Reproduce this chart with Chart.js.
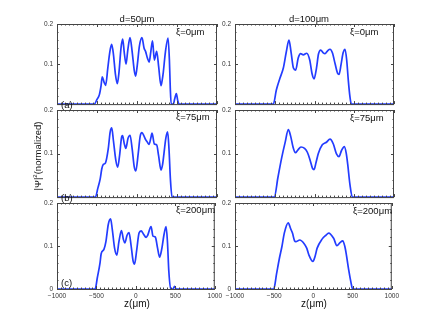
<!DOCTYPE html>
<html>
<head>
<meta charset="utf-8">
<script src="https://cdn.jsdelivr.net/npm/chart.js@4"></script>
<style>
  body { margin: 0; background: #fff; }
  #wrap { position: relative; width: 436px; height: 325px; overflow: hidden;
          font-family: "Liberation Sans", Arial, sans-serif; color: #111; }
  canvas { position: absolute; }
  .t { position: absolute; white-space: nowrap; font-size: 9.5px; line-height: 10px; height: 10px; z-index: 5; }
  .c { width: 80px; text-align: center; }
</style>
</head>
<body>
<div id="wrap">
  <div class="t c" style="left:97px;top:14px">d=50μm</div>
  <div class="t c" style="left:269px;top:14px">d=100μm</div>

  <div class="t" style="left:176px;top:27px">ξ=0μm</div>
  <div class="t" style="left:350px;top:27px">ξ=0μm</div>
  <div class="t" style="left:176px;top:112px">ξ=75μm</div>
  <div class="t" style="left:350px;top:113px">ξ=75μm</div>
  <div class="t" style="left:176px;top:205px">ξ=200μm</div>
  <div class="t" style="left:353px;top:206px">ξ=200μm</div>

  <div class="t" style="left:61px;top:100px">(a)</div>
  <div class="t" style="left:61px;top:193px">(b)</div>
  <div class="t" style="left:61px;top:278px">(c)</div>

  <div class="t c" style="left:97px;top:299px;font-size:10px">z(μm)</div>
  <div class="t c" style="left:274px;top:299px;font-size:10px">z(μm)</div>
  <div class="t c" style="left:-5px;top:151px;transform:rotate(-90deg)">|Ψ|<span style="font-size:6px;vertical-align:4px">2</span>(normalized)</div>
</div>
<script>
// d = 50um, xi = 0 / 75 / 200 um
const zA = [-1000,-600,-533,-500,-471,-450,-434,-412,-392,-365,-340,-317,-295,-270,-246,-225,-200,-179,-160,-137,-115,-87,-60,-35,-17,5,30,62,88,108,130,152,172,194,217,246,270,300,315,329,355,388,405,416,427,455,470,492,508,525,1000];
const psiA = [0,0,0,0.012,0.023,0.045,0.068,0.055,0.047,0.09,0.13,0.149,0.125,0.075,0.051,0.08,0.14,0.162,0.13,0.1,0.135,0.166,0.13,0.085,0.07,0.1,0.145,0.166,0.14,0.131,0.115,0.105,0.13,0.158,0.11,0.132,0.095,0.046,0.06,0.08,0.13,0.165,0.11,0.04,0,0,0.012,0.026,0.01,0,0];

const zB = [-1000,-600,-520,-490,-460,-440,-421,-395,-360,-335,-316,-295,-265,-241,-215,-195,-181,-158,-140,-112,-87,-60,-35,-15,15,40,62,88,108,130,150,172,188,217,246,270,300,320,337,360,383,400,418,438,1000];
const psiB = [0,0,0,0.02,0.042,0.065,0.075,0.078,0.11,0.15,0.159,0.13,0.085,0.069,0.1,0.135,0.141,0.122,0.112,0.135,0.142,0.11,0.07,0.06,0.1,0.14,0.148,0.14,0.132,0.126,0.121,0.135,0.147,0.122,0.12,0.095,0.062,0.075,0.1,0.135,0.15,0.11,0.04,0,0];

const zC = [-1000,-600,-516,-490,-455,-440,-405,-380,-350,-321,-300,-270,-242,-215,-183,-158,-140,-112,-87,-60,-35,-17,10,40,67,95,130,150,192,217,246,275,300,330,355,383,400,418,441,470,490,510,1000];
const psiC = [0,0,0,0.025,0.06,0.082,0.092,0.11,0.15,0.163,0.14,0.095,0.079,0.11,0.136,0.115,0.107,0.125,0.131,0.1,0.065,0.058,0.09,0.13,0.135,0.128,0.12,0.125,0.145,0.123,0.121,0.095,0.074,0.095,0.125,0.145,0.11,0.04,0,0,0.006,0,0];

// d = 100um, xi = 0 / 75 / 200 um
const zD = [-1000,-600,-518,-480,-434,-392,-355,-321,-295,-265,-237,-205,-174,-141,-98,-60,-30,-6,25,50,78,110,132,165,195,225,260,290,308,335,360,384,405,425,445,463,1000];
const psiD = [0,0,0,0.035,0.065,0.09,0.13,0.16,0.13,0.09,0.085,0.115,0.126,0.123,0.127,0.11,0.075,0.063,0.09,0.125,0.135,0.128,0.126,0.133,0.137,0.128,0.1,0.077,0.074,0.1,0.128,0.137,0.11,0.06,0.02,0,0];

const zE = [-1000,-600,-506,-460,-413,-370,-329,-300,-270,-240,-210,-170,-125,-90,-57,-25,-6,20,48,98,150,195,237,275,308,340,375,400,418,445,476,1000];
const psiE = [0,0,0,0.045,0.09,0.125,0.155,0.14,0.115,0.102,0.108,0.115,0.112,0.103,0.086,0.066,0.063,0.08,0.1,0.12,0.126,0.133,0.122,0.1,0.093,0.107,0.116,0.1,0.075,0.03,0,0];

const zF = [-1000,-600,-506,-470,-434,-400,-371,-321,-290,-267,-240,-224,-174,-120,-85,-57,-6,20,48,111,160,195,258,300,340,375,400,418,450,480,500,1000];
const psiF = [0,0,0,0.035,0.071,0.1,0.13,0.154,0.14,0.13,0.112,0.11,0.114,0.106,0.095,0.079,0.064,0.075,0.095,0.116,0.125,0.13,0.118,0.101,0.108,0.112,0.1,0.083,0.045,0.015,0,0];

const lineColor = 'rgb(35, 60, 255)';
const frameColor = '#444';
const tickColor = '#333';
const tickFont = { size: 6.5, family: '"Liberation Sans", Arial, sans-serif' };

const cols = [{ left: 57, right: 217 }, { left: 235, right: 394 }];
const rows = [{ top: 24, bottom: 110 }, { top: 110, bottom: 203 }, { top: 203, bottom: 289 }];

const panels = [
  { z: zA, psi: psiA, col: 0, row: 0 },
  { z: zB, psi: psiB, col: 0, row: 1 },
  { z: zC, psi: psiC, col: 0, row: 2 },
  { z: zD, psi: psiD, col: 1, row: 0 },
  { z: zE, psi: psiE, col: 1, row: 1 },
  { z: zF, psi: psiF, col: 1, row: 2 },
];

// box around the plot + small inward ticks
const framePlugin = {
  id: 'frame',
  afterDraw(chart) {
    const { ctx, chartArea: a, scales: { x, y } } = chart;
    ctx.save();
    ctx.strokeStyle = frameColor;
    ctx.lineWidth = 1;
    ctx.beginPath();
    for (let v = -1000; v <= 1000; v += 50) {
      const px = Math.round(x.getPixelForValue(v)) + 0.5;
      const len = v % 500 === 0 ? 3 : 1.5;
      ctx.moveTo(px, a.bottom); ctx.lineTo(px, a.bottom - len);
      ctx.moveTo(px, a.top); ctx.lineTo(px, a.top + len);
    }
    for (let i = 0; i <= 10; i++) {
      const py = Math.round(y.getPixelForValue(i * 0.02)) + 0.5;
      const len = i % 5 === 0 ? 3 : 1.5;
      ctx.moveTo(a.left, py); ctx.lineTo(a.left + len, py);
      ctx.moveTo(a.right, py); ctx.lineTo(a.right - len, py);
    }
    ctx.stroke();
    ctx.strokeRect(a.left + 0.5, a.top + 0.5, a.right - a.left - 1, a.bottom - a.top);
    ctx.restore();
  }
};

const wrap = document.getElementById('wrap');

panels.forEach(p => {
  const c = cols[p.col], r = rows[p.row];
  const isBottom = p.row === 2;
  const padL = 40, padT = 8, padR = 8, padB = isBottom ? 14 : 2;
  const w = c.right - c.left + padL + padR;
  const h = r.bottom - r.top + padT + padB;
  const cv = document.createElement('canvas');
  cv.width = w; cv.height = h;
  cv.style.left = (c.left - padL) + 'px';
  cv.style.top = (r.top - padT) + 'px';
  cv.style.width = w + 'px'; cv.style.height = h + 'px';
  wrap.insertBefore(cv, wrap.firstChild);

  new Chart(cv, {
    type: 'line',
    data: {
      datasets: [{
        data: p.z.map((z, i) => ({ x: z, y: p.psi[i] })),
        borderColor: lineColor,
        borderWidth: 1.7,
        pointRadius: 0,
        cubicInterpolationMode: 'monotone',
        clip: 2,
        fill: false
      }]
    },
    options: {
      responsive: false,
      animation: false,
      events: [],
      layout: { padding: { top: padT, right: padR, left: 0, bottom: 0 } },
      plugins: { legend: { display: false }, tooltip: { enabled: false } },
      scales: {
        x: {
          type: 'linear', min: -1000, max: 1000,
          grid: { display: false, drawTicks: false }, border: { display: false },
          ticks: {
            display: isBottom, stepSize: 500, padding: 3, maxRotation: 0, autoSkip: false,
            color: tickColor, font: tickFont,
            callback: v => v < 0 ? '\u2212' + Math.abs(v) : String(v)
          },
          afterFit: s => { s.height = padB; }
        },
        y: {
          min: 0, max: 0.2,
          grid: { display: false, drawTicks: false }, border: { display: false },
          ticks: {
            stepSize: 0.1, padding: 4,
            color: tickColor, font: tickFont,
            callback: v => v === 0 ? (isBottom ? '0' : '') : v.toFixed(1)
          },
          afterFit: s => { s.width = padL; }
        }
      }
    },
    plugins: [framePlugin]
  });
});
</script>
</body>
</html>
